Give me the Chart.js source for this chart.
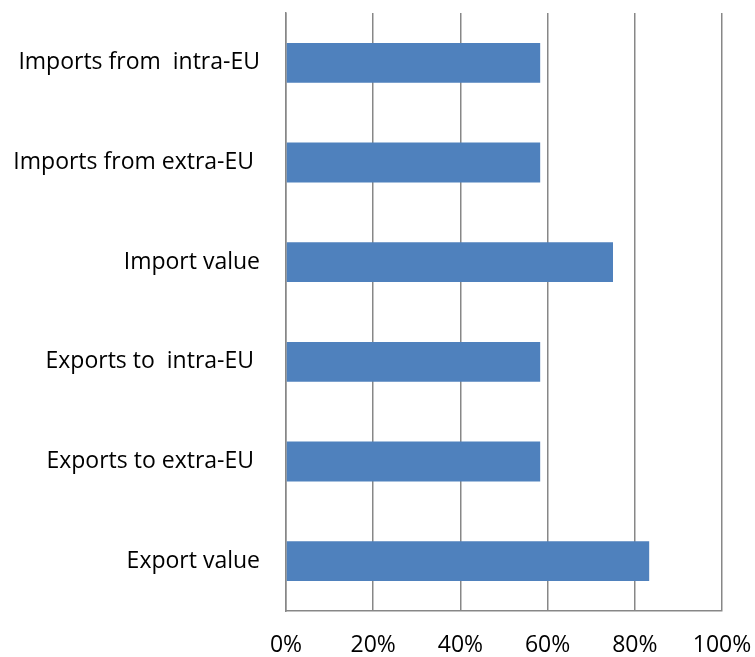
<!DOCTYPE html>
<html>
<head>
<meta charset="utf-8">
<script src="https://cdn.jsdelivr.net/npm/chart.js@4"></script>
<style>
  html, body { margin: 0; padding: 0; background: #fff; }
  #wrap { width: 755px; height: 657px; }
</style>
</head>
<body>
<div id="wrap"><canvas id="bar-chart" width="755" height="657"></canvas></div>
<script>
// categories, top to bottom
var labels = ["Imports from  intra-EU", "Imports from extra-EU ", "Import value", "Exports to  intra-EU ", "Exports to extra-EU ", "Export value"];
var values = [58.3, 58.3, 75, 58.3, 58.3, 83.3];
var tickValues = [0, 20, 40, 60, 80, 100];

var font = { family: "'Open Sans', sans-serif", size: 23 };

const databar = {
    labels: labels,
    datasets: [{
        data: values,
        backgroundColor: "#4F81BD",
        borderWidth: 0,
        barPercentage: 0.4,
        categoryPercentage: 1
    }]
}

const configbar = {
    type: 'bar',
    data: databar,
    options: {
        indexAxis: 'y',
        responsive: false,
        animation: false,
        layout: { padding: { left: 0, right: 33, top: 13, bottom: 0 } },
        plugins: {
            legend: { display: false },
            tooltip: { enabled: false }
        },
        scales: {
            x: {
                min: 0,
                max: 100,
                afterBuildTicks: function (axis) {
                    axis.ticks = tickValues.map(function (v) { return { value: v }; });
                },
                afterFit: function (axis) {
                    // keep the plot edges fixed, labels may hang over
                    axis.height = 46;
                    axis.paddingLeft = 0;
                    axis.paddingRight = 0;
                },
                ticks: {
                    callback: function (v) { return v + "%"; },
                    color: "#000",
                    font: font,
                    padding: 21,
                    maxRotation: 0
                },
                grid: { color: "#878787", lineWidth: 1.5, drawTicks: false },
                border: { color: "#878787", width: 1.5 }
            },
            y: {
                afterFit: function (axis) {
                    axis.width = 286;
                    axis.paddingTop = 0;
                    axis.paddingBottom = 0;
                },
                ticks: { color: "#000", font: font, padding: 26 },
                grid: { display: false, drawTicks: false },
                border: { color: "#878787", width: 1.5 }
            }
        }
    }
}

const myChart1 = new Chart(document.getElementById('bar-chart'), configbar);
</script>
</body>
</html>
